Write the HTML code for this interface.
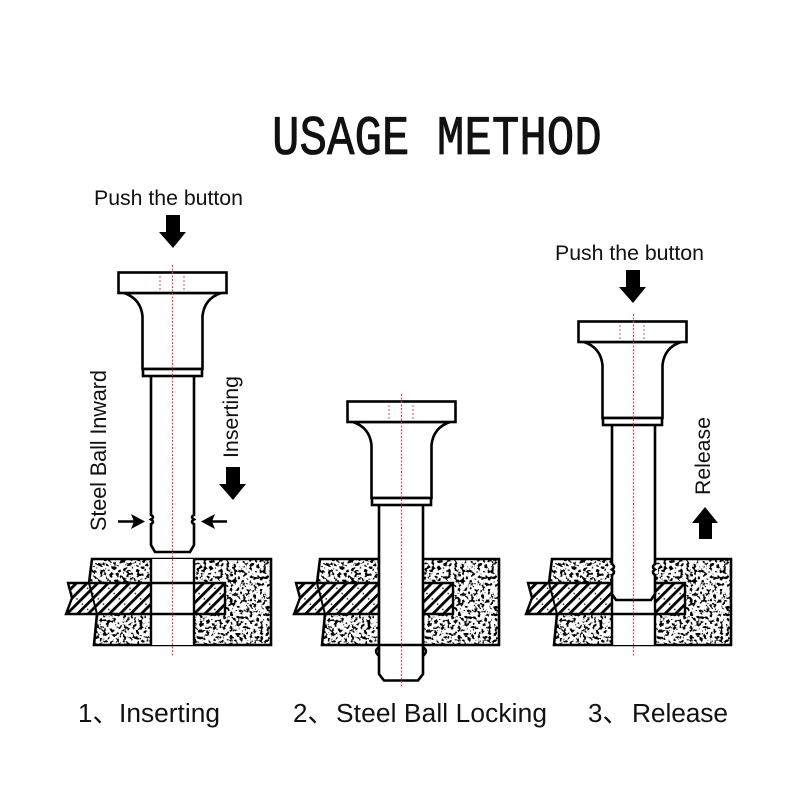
<!DOCTYPE html>
<html><head><meta charset="utf-8"><style>
html,body{margin:0;padding:0;background:#fff}
svg{display:block}
text{font-family:"Liberation Sans","Noto Sans CJK SC",sans-serif;fill:#111}
</style></head><body>
<svg width="800" height="800" viewBox="0 0 800 800" xmlns="http://www.w3.org/2000/svg">
<defs>
<filter id="sp" x="0" y="0" width="100%" height="100%" color-interpolation-filters="sRGB">
<feTurbulence type="fractalNoise" baseFrequency="0.3" numOctaves="2" seed="7"/>
<feColorMatrix type="matrix" values="0 0 0 0 0  0 0 0 0 0  0 0 0 0 0  9 9 0 0 -9.3"/>
<feComposite in2="SourceGraphic" operator="over"/>
</filter>
<clipPath id="bc"><path d="M92 559H271V645H94L97 614L89 583Z"/></clipPath>
<pattern id="h" width="15" height="7.500" patternUnits="userSpaceOnUse" patternTransform="rotate(-45)">
<rect width="15" height="7.500" fill="#fff"/><rect width="15" height="2.800" fill="#000"/>
<circle cx="6" cy="5.400" r=".8" fill="#000"/>
</pattern>
<g id="block">
<g clip-path="url(#bc)"><rect x="85" y="555" width="190" height="95" fill="#fff" filter="url(#sp)"/></g>
<path d="M92 559H271V645H94L97 614L89 583Z" fill="none" stroke="#000" stroke-width="2.600"/>
<path d="M68 583H225V614H66L72 598Z" fill="url(#h)" stroke="#000" stroke-width="2.400"/>
<path d="M89 583L97 614" stroke="#000" stroke-width="2"/>
</g>
<g id="hole">
<rect x="151" y="559" width="43" height="86" fill="#fff"/>
<path d="M151 559V645M194 559V645M151 583H194M151 614H194" stroke="#000" stroke-width="2.400" fill="none"/>
</g>
<g id="pin" fill="#fff" stroke="#000" stroke-width="2.600">
<path d="M124 293C133 296 141 302 142.500 316V369H202.500V316C204 302 212 296 221 293Z"/>
<rect x="118.500" y="272.500" width="108" height="20.500"/>
<rect x="143" y="369" width="59" height="7"/>
</g>
<g id="dots" stroke="#d9505a" stroke-width="1" fill="none" stroke-dasharray="2 2">
<path d="M160 276V290M184 276V290"/>
</g>
<path id="down" d="M166 215H180V232H186L173 248L159 232H166Z" fill="#000"/>
</defs>
<rect width="800" height="800" fill="#fff"/>

<text transform="translate(272 154) scale(1 1.22)" font-size="45.800" style="font-family:'Liberation Mono',monospace;stroke:#111;stroke-width:.7">USAGE METHOD</text>

<!-- Diagram 1 -->
<use href="#block"/><use href="#hole"/>
<path d="M151 376V545L155 552H190L194 545V376" fill="#fff" stroke="#000" stroke-width="2.600"/>
<use href="#pin"/><use href="#dots"/>
<path d="M172.500 265V656" stroke="#dc4a56" stroke-width="1.200" stroke-dasharray="2 1.500"/>
<rect x="148" y="516" width="6" height="7" fill="#fff"/><rect x="191" y="516" width="6" height="7" fill="#fff"/>
<path d="M151 515Q155 517 151 519.500Q155 522 151 524M194 515Q190 517 194 519.500Q190 522 194 524" stroke="#000" stroke-width="2.600" fill="none"/>
<path d="M118 521.500H136" stroke="#000" stroke-width="2.600"/><path d="M131 514L145 521.500L131 529L134 521.500Z" fill="#000"/>
<path d="M210 521.500H227" stroke="#000" stroke-width="2.600"/><path d="M215 514L201 521.500L215 529L212 521.500Z" fill="#000"/>
<use href="#down"/>
<use href="#down" transform="translate(60 252)"/>
<text x="94" y="205" font-size="21.300" textLength="149">Push the button</text>
<text transform="translate(106 531) rotate(-90)" font-size="21.800" textLength="161">Steel Ball Inward</text>
<text transform="translate(238 458) rotate(-90)" font-size="21.300" textLength="82">Inserting</text>

<!-- Diagram 2 -->
<use href="#block" x="228"/><use href="#hole" x="228"/>
<path d="M379 647Q373 651 379 656M423 647Q429 651 423 656" fill="none" stroke="#000" stroke-width="2.400"/>
<path d="M379 500V674L384 680.500H418L423 674V500" fill="#fff" stroke="#000" stroke-width="2.600"/>
<path d="M379 645H423" stroke="#000" stroke-width="2.600"/>
<use href="#pin" x="229" y="129"/><use href="#dots" x="229" y="129"/>
<path d="M401.500 394V688" stroke="#dc4a56" stroke-width="1.200" stroke-dasharray="2 1.500"/>

<!-- Diagram 3 -->
<use href="#block" x="460"/><use href="#hole" x="461"/>
<path d="M612 425V594L616 600H651L655 594V425" fill="#fff" stroke="#000" stroke-width="2.600"/>
<use href="#pin" x="460" y="49"/><use href="#dots" x="460" y="49"/>
<rect x="609" y="565" width="6" height="9" fill="#fff"/><rect x="652" y="565" width="6" height="9" fill="#fff"/>
<path d="M612 564Q616 567 612 569.500Q616 572 612 575M655 564Q651 567 655 569.500Q651 572 655 575" stroke="#000" stroke-width="2.600" fill="none"/>
<path d="M633.500 314V656" stroke="#dc4a56" stroke-width="1.200" stroke-dasharray="2 1.500"/>
<use href="#down" x="460" y="55"/>
<path d="M699 539V523H692L705 507L718 523H712V539Z" fill="#000"/>
<text x="555" y="260" font-size="21.300" textLength="149">Push the button</text>
<text transform="translate(710 495) rotate(-90)" font-size="21.300" textLength="78">Release</text>

<text x="78" y="722" font-size="26">1、</text><text x="119" y="722" font-size="26.300" textLength="101">Inserting</text>
<text x="293" y="722" font-size="26">2、</text><text x="336" y="722" font-size="26.300" textLength="211">Steel Ball Locking</text>
<text x="588" y="722" font-size="26">3、</text><text x="632" y="722" font-size="26.300" textLength="96">Release</text>
</svg>
</body></html>
